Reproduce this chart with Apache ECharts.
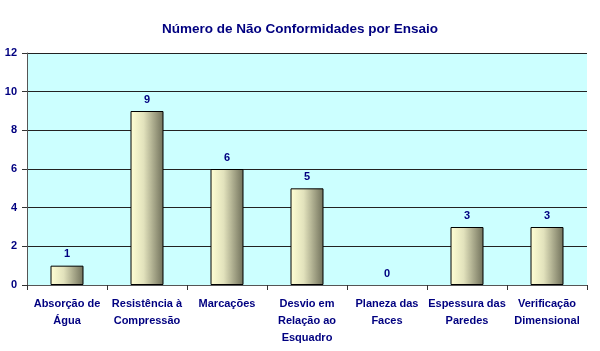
<!DOCTYPE html>
<html><head><meta charset="utf-8">
<script src="https://cdn.jsdelivr.net/npm/echarts@6/dist/echarts.min.js"></script>
<style>html,body{margin:0;padding:0;background:#fff}#c{width:600px;height:351px}</style>
</head><body><div id="c"></div>
<script>
const categories = ["Absorção de\nÁgua","Resistência à\nCompressão","Marcações","Desvio em\nRelação ao\nEsquadro","Planeza das\nFaces","Espessura das\nParedes","Verificação\nDimensional"];
const values = [1,9,6,5,0,3,3];
const yTicks = {min:0,max:12,interval:2};
const titleText = "Número de Não Conformidades por Ensaio";
const navy = '#000080';
const chart = echarts.init(document.getElementById('c'));
chart.setOption({
  animation:false,
  backgroundColor:'#fff',
  title:{text:titleText,left:'center',top:17,textStyle:{fontFamily:'Liberation Sans',fontSize:13.5,fontWeight:'bold',color:navy}},
  grid:{left:27,right:13,top:53,bottom:66,show:true,backgroundColor:'#ccffff',borderWidth:0},
  xAxis:{type:'category',data:categories,
    axisLine:{lineStyle:{color:'#555',width:1}},
    axisTick:{show:true,length:5,lineStyle:{color:'#333'}},
    axisLabel:{interval:0,margin:10,fontFamily:'Liberation Sans',fontSize:11,fontWeight:'bold',color:navy,lineHeight:17}},
  yAxis:{type:'value',min:yTicks.min,max:yTicks.max,interval:yTicks.interval,
    axisLine:{show:true,lineStyle:{color:'#555'}},
    axisTick:{show:true,length:5,lineStyle:{color:'#333'}},
    splitLine:{lineStyle:{color:'#222',width:1}},
    axisLabel:{margin:10,fontFamily:'Liberation Sans',fontSize:11,fontWeight:'bold',color:navy}},
  series:[{type:'bar',barWidth:33,
    data:values.map(v=>({value:v,itemStyle:{borderWidth:v===0?0:1}})),
    itemStyle:{borderColor:'#000',borderWidth:1,
      color:new echarts.graphic.LinearGradient(0,0,1,0,[{offset:0,color:'#ffffd4'},{offset:0.4,color:'#e2e2bc'},{offset:1,color:'#70705a'}])},
    label:{show:true,position:'top',distance:6,fontFamily:'Liberation Sans',fontSize:11,fontWeight:'bold',color:navy}}]
});
</script></body></html>
